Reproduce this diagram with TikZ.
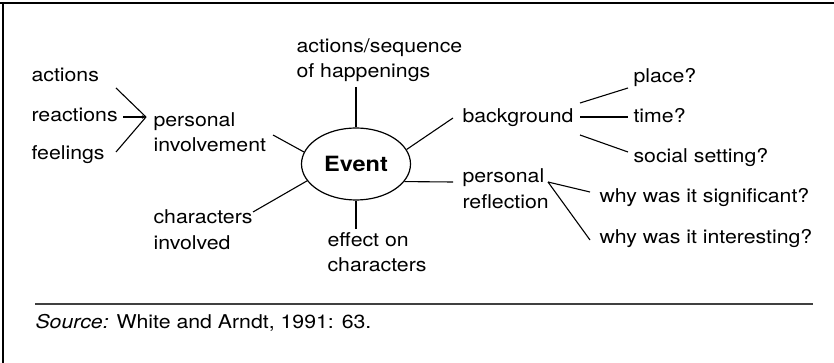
\documentclass[tikz,border=0pt]{standalone}
\usepackage{fontspec}
\setmainfont{TeX Gyre Heros}[FakeStretch=1.12]
\usetikzlibrary{calc,arrows.meta,shapes.geometric}
\begin{document}
\begin{tikzpicture}[x=1pt, y=-1pt, line width=1.1pt,
	lbl/.style={anchor=base west, inner sep=0pt, align=left, font=\fontsize{19}{25}\selectfont},
	hub/.style={draw, ellipse, line width=1.2pt, inner sep=0pt, minimum width=109pt, minimum height=72pt, font=\fontsize{21}{24}\selectfont\bfseries}]
	\useasboundingbox (0,0) rectangle (834,363);
	% frame (top and left only)
	\draw[line width=2pt] (0,2.7) -- (834,2.7);
	\draw[line width=2pt] (2.5,2.7) -- (2.5,363);

	% centre
	\node[hub] (event) at (356,164) {Event};

	% left branch
	\node[lbl] (act) at (31,82) {actions};
	\node[lbl] (react) at (31,122) {reactions};
	\node[lbl] (feel) at (31,160) {feelings};
	\coordinate (conv) at (146,117);
	\node[lbl] (persinv) at (153,152) {personal\\involvement};
	\node[lbl] (charinv) at (153,249) {characters\\involved};

	% top and bottom
	\node[lbl] (actseq) at (296,78) {actions/sequence\\of happenings};
	\node[lbl] (effect) at (327,271) {effect on\\characters};

	% right branch
	\node[lbl] (bg) at (462,123) {background};
	\node[lbl] (place) at (633,83) {place?};
	\node[lbl] (time) at (633,123) {time?};
	\node[lbl] (social) at (633,163) {social setting?};
	\node[lbl] (persref) at (462,208) {personal\\reflection};
	\node[lbl] (sig) at (599,203) {why was it significant?};
	\node[lbl] (int) at (599,243) {why was it interesting?};

	% connectors
	\draw ($(act.base west)+(85,6)$) -- (conv);
	\draw ($(feel.base west)+(85,-8)$) -- (conv);
	\draw[-{Stealth[length=4pt,width=3.5pt]}] ($(react.base west)+(92,-5)$) -- (conv);
	\draw ($(persinv.base west)+(120,-17)$) -- (event.167);
	\draw ($(charinv.base west)+(100,-37)$) -- (event.199);
	\draw ($(actseq.base west)+(60,9)$) -- (event.north);
	\draw ($(effect.base west)+(29,-42)$) -- (event.south);
	\draw (event.16) -- ($(bg.base west)+(-9,-5)$);
	\draw (event.340) -- ($(persref.base west)+(-9,-26)$);
	\draw ($(bg.base west)+(118,-20)$) -- ($(place.base west)+(-5,5)$);
	\draw ($(bg.base west)+(118,-6)$) -- ($(time.base west)+(-5,-6)$);
	\draw ($(bg.base west)+(118,12)$) -- ($(social.base west)+(-5,-11)$);
	\draw ($(persref.base west)+(86,-26)$) -- ($(sig.base west)+(-9,-11)$);
	\draw ($(persref.base west)+(86,-26)$) -- ($(int.base west)+(-9,-3)$);

	% source line
	\draw[line width=1.5pt, black!75] (35,304) coordinate (ruleA) -- (813,304) coordinate (ruleB);
	\node[lbl] (src) at (35,328) {{\itshape Source:} White and Arndt, 1991: 63.};
\end{tikzpicture}
\end{document}
